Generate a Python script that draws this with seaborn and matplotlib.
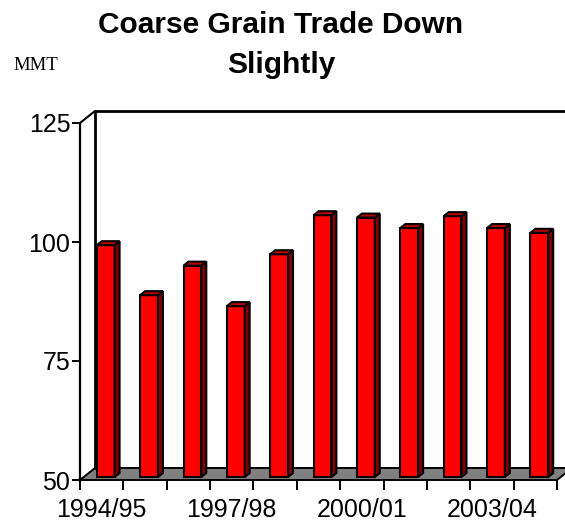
import numpy as np
import pandas as pd
import seaborn as sns
import matplotlib.pyplot as plt
from matplotlib.patches import Polygon
from matplotlib.lines import Line2D

# data (million metric tons)
years = ["1994/95", "1995/96", "1996/97", "1997/98", "1998/99", "1999/00",
         "2000/01", "2001/02", "2002/03", "2003/04", "2004/05"]
trade = [98.7, 88.2, 94.4, 85.9, 96.8, 105.0, 104.5, 102.3, 104.8, 102.3, 101.3]
yticks = [50, 75, 100, 125]
shown_labels = ["1994/95", "1997/98", "2000/01", "2003/04"]

df = pd.DataFrame({"year": years, "trade": trade})

sns.set_style("white")
plt.rcParams['font.family'] = ['Liberation Sans', 'DejaVu Sans']
plt.rcParams['text.color'] = 'black'
plt.rcParams['xtick.color'] = 'black'
plt.rcParams['ytick.color'] = 'black'

W, H = 565, 522
fig = plt.figure(figsize=(W / 100, H / 100), dpi=100)
ax = fig.add_axes([80 / W, 42 / H, 477 / W, 357 / H])

sns.barplot(data=df, x="year", y="trade", color="#ff0000", width=0.41,
            edgecolor="black", linewidth=1.5, saturation=1, ax=ax, zorder=3)
ymin, ymax = 50, 125
ax.set_ylim(ymin, ymax)
ax.set_xlim(-0.5, len(years) - 0.5)

# pixel -> data conversions for the fake 3d depth
px_x = len(years) / 477
px_y = (ymax - ymin) / 357

# floor and walls
wx, wy = 15 * px_x, 12 * px_y
x0, x1 = -0.5, len(years) - 0.5
floor = Polygon([(x0, ymin), (x1, ymin), (x1 + wx, ymin + wy), (x0 + wx, ymin + wy)],
                closed=True, facecolor="#808080", edgecolor="black", lw=1.4,
                clip_on=False, zorder=1)
ax.add_patch(floor)
ax.add_line(Line2D([x0 + wx, x0 + wx, x1 + wx + 0.3], [ymin + wy, ymax + wy, ymax + wy],
                   color="black", lw=2, clip_on=False, zorder=1))
ax.add_line(Line2D([x0, x0 + wx], [ymax, ymax + wy], color="black", lw=1.5,
                   clip_on=False, zorder=1))

# bars sit a little back on the floor; add sides and tops
sx, sy = 4 * px_x, 3 * px_y
bx, by = 5 * px_x, 4 * px_y
for p in list(ax.patches)[:len(years)]:
    h = p.get_height()
    p.set_x(p.get_x() + sx)
    p.set_y(ymin + sy)
    p.set_height(h - ymin)
    l = p.get_x()
    r = l + p.get_width()
    b = p.get_y()
    t = b + p.get_height()
    ax.add_patch(Polygon([(r, b), (r + bx, b + by), (r + bx, t + by), (r, t)],
                         closed=True, facecolor="#800000", edgecolor="black",
                         lw=1.5, zorder=3))
    ax.add_patch(Polygon([(l, t), (r, t), (r + bx, t + by), (l + bx, t + by)],
                         closed=True, facecolor="#c00000", edgecolor="black",
                         lw=1.5, zorder=3))

for s in ["top", "right", "bottom"]:
    ax.spines[s].set_visible(False)
ax.spines["left"].set_linewidth(1.6)
ax.spines["left"].set_color("black")

ax.set_yticks(yticks)
ax.tick_params(axis="y", direction="out", length=6, width=1.4, labelsize=18, pad=1, left=True)
ax.set_xticks([years.index(y) for y in shown_labels])
ax.set_xticklabels(shown_labels)
ax.set_xticks(np.arange(-0.5, len(years)), minor=True)
ax.tick_params(axis="x", which="major", length=0, labelsize=18, pad=13)
ax.tick_params(axis="x", which="minor", direction="out", length=7, width=1.4, bottom=True)
ax.set_xlabel("")
ax.set_ylabel("")

fig.text(0.497, 0.952, "Coarse Grain Trade Down", ha="center", va="center",
         fontsize=21.5, fontweight="bold")
fig.text(0.497, 0.875, "Slightly", ha="center", va="center",
         fontsize=21.5, fontweight="bold")
fig.text(0.023, 0.875, "MMT", ha="left", va="center", fontsize=13.5,
         family=["Liberation Serif", "DejaVu Serif"])

fig.savefig("out.png", dpi=100)
